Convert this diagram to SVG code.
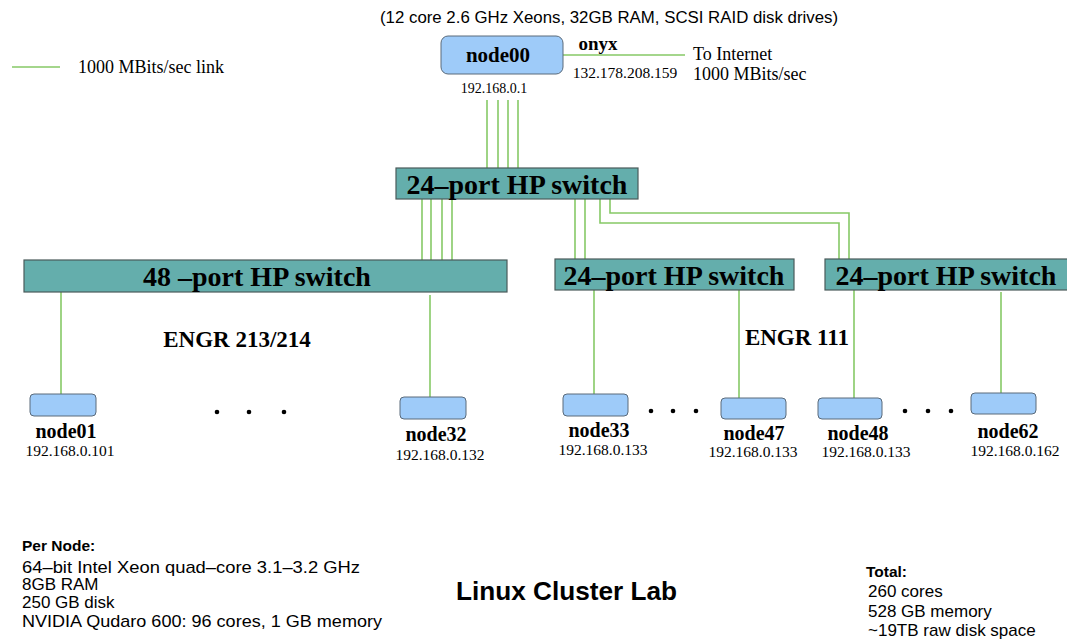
<svg xmlns="http://www.w3.org/2000/svg" width="1067" height="640" viewBox="0 0 1067 640">
<style>
.bg{fill:#ffffff}
.link{stroke:#86c966;stroke-width:1.6;fill:none}
.sw{fill:#64aeac;stroke:#4a5a5a;stroke-width:1.2}
.nd{fill:#9ecbf9;stroke:#5a6a7a;stroke-width:1}
.swt{font-family:"Liberation Serif",serif;font-weight:bold;font-size:28px;fill:#000;text-anchor:middle}
.nl{font-family:"Liberation Serif",serif;font-weight:bold;font-size:20px;fill:#000;text-anchor:middle}
.ip{font-family:"Liberation Serif",serif;font-size:15.5px;fill:#000;text-anchor:middle}
.ser{font-family:"Liberation Serif",serif;font-size:18px;fill:#000}
.room{font-family:"Liberation Serif",serif;font-weight:bold;font-size:23px;fill:#000;text-anchor:middle}
.sans{font-family:"Liberation Sans",sans-serif;font-size:17px;fill:#000}
.sansb{font-family:"Liberation Sans",sans-serif;font-weight:bold;font-size:15.5px;fill:#000}
.dot{fill:#000}
</style>
<rect class="bg" x="0" y="0" width="1067" height="640"/>

<g id="legend">
<line class="link" x1="12" y1="67" x2="60" y2="67"/>
<text class="ser" x="78" y="73">1000 MBits/sec link</text>
</g>

<text class="sans" x="380" y="23" style="font-size:16px" textLength="458" lengthAdjust="spacingAndGlyphs">(12 core 2.6 GHz Xeons, 32GB  RAM, SCSI RAID disk drives)</text>

<g id="connectors">
<line class="link" x1="563" y1="55" x2="685" y2="55"/>
<line class="link" x1="487" y1="100" x2="487" y2="168"/>
<line class="link" x1="498" y1="100" x2="498" y2="168"/>
<line class="link" x1="508" y1="100" x2="508" y2="168"/>
<line class="link" x1="518" y1="100" x2="518" y2="168"/>
<line class="link" x1="422" y1="199" x2="422" y2="260"/>
<line class="link" x1="431" y1="199" x2="431" y2="260"/>
<line class="link" x1="442" y1="199" x2="442" y2="260"/>
<line class="link" x1="452" y1="199" x2="452" y2="260"/>
<line class="link" x1="575" y1="199" x2="575" y2="259"/>
<line class="link" x1="585" y1="199" x2="585" y2="259"/>
<polyline class="link" points="600,199 600,223 839,223 839,259"/>
<polyline class="link" points="610,199 610,213 849,213 849,259"/>
<line class="link" x1="61" y1="292" x2="61" y2="394"/>
<line class="link" x1="430" y1="295" x2="430" y2="397"/>
<line class="link" x1="594" y1="290" x2="594" y2="394"/>
<line class="link" x1="739" y1="290" x2="739" y2="398"/>
<line class="link" x1="854" y1="290" x2="854" y2="398"/>
<line class="link" x1="1001" y1="292" x2="1001" y2="393"/>
</g>

<g id="node00">
<rect class="nd" x="441" y="36" width="122" height="38" rx="7"/>
<text class="nl" x="498" y="62" style="font-size:21px">node00</text>
<text class="ip" x="494" y="93" style="font-size:14px">192.168.0.1</text>
<text class="nl" x="598" y="50" style="font-size:19px">onyx</text>
<text class="ip" x="625" y="78">132.178.208.159</text>
<text class="ser" x="693" y="60">To Internet</text>
<text class="ser" x="693" y="80">1000 MBits/sec</text>
</g>

<g id="switch-top">
<rect class="sw" x="396" y="168" width="242" height="31"/>
<text class="swt" x="517" y="194">24–port HP switch</text>
</g>

<g id="switch-48">
<rect class="sw" x="24" y="260" width="483" height="32"/>
<text class="swt" x="257" y="286">48 –port HP switch</text>
</g>

<g id="switch-24a">
<rect class="sw" x="555" y="259" width="239" height="31"/>
<text class="swt" x="674" y="285">24–port HP switch</text>
</g>

<g id="switch-24b">
<rect class="sw" x="825" y="259" width="245" height="31"/>
<text class="swt" x="946" y="285">24–port HP switch</text>
</g>

<text class="room" x="237" y="347">ENGR 213/214</text>
<text class="room" x="797" y="345">ENGR 111</text>

<g id="node01">
<rect class="nd" x="30" y="394" width="66" height="22" rx="4"/>
<text class="nl" x="66" y="438">node01</text>
<text class="ip" x="70" y="456">192.168.0.101</text>
</g>
<g id="node32">
<rect class="nd" x="400" y="397" width="66" height="22" rx="4"/>
<text class="nl" x="436" y="441">node32</text>
<text class="ip" x="440" y="460">192.168.0.132</text>
</g>
<g id="node33">
<rect class="nd" x="563" y="394" width="65" height="22" rx="4"/>
<text class="nl" x="599" y="437">node33</text>
<text class="ip" x="603" y="455">192.168.0.133</text>
</g>
<g id="node47">
<rect class="nd" x="721" y="398" width="65" height="21" rx="4"/>
<text class="nl" x="754" y="440">node47</text>
<text class="ip" x="753" y="457">192.168.0.133</text>
</g>
<g id="node48">
<rect class="nd" x="818" y="398" width="64" height="21" rx="4"/>
<text class="nl" x="858" y="440">node48</text>
<text class="ip" x="866" y="457">192.168.0.133</text>
</g>
<g id="node62">
<rect class="nd" x="971" y="393" width="65" height="21" rx="4"/>
<text class="nl" x="1008" y="438">node62</text>
<text class="ip" x="1015" y="456">192.168.0.162</text>
</g>

<g id="dots">
<circle class="dot" cx="217" cy="412" r="2.3"/>
<circle class="dot" cx="249" cy="412" r="2.3"/>
<circle class="dot" cx="284" cy="412" r="2.3"/>
<circle class="dot" cx="651" cy="411" r="2.3"/>
<circle class="dot" cx="673" cy="411" r="2.3"/>
<circle class="dot" cx="696" cy="411" r="2.3"/>
<circle class="dot" cx="905" cy="411" r="2.3"/>
<circle class="dot" cx="928" cy="411" r="2.3"/>
<circle class="dot" cx="951" cy="411" r="2.3"/>
</g>

<g id="pernode">
<text class="sansb" x="22" y="551">Per Node:</text>
<text class="sans" x="22" y="573" textLength="338" lengthAdjust="spacingAndGlyphs">64–bit Intel Xeon quad–core 3.1–3.2 GHz</text>
<text class="sans" x="22" y="590">8GB RAM</text>
<text class="sans" x="22" y="608">250 GB disk</text>
<text class="sans" x="22" y="627" textLength="360" lengthAdjust="spacingAndGlyphs">NVIDIA Qudaro 600: 96 cores, 1 GB memory</text>
</g>

<text class="sansb" x="456" y="600" style="font-size:26px" textLength="221" lengthAdjust="spacingAndGlyphs">Linux Cluster Lab</text>

<g id="total">
<text class="sansb" x="866" y="577">Total:</text>
<text class="sans" x="868" y="597">260 cores</text>
<text class="sans" x="868" y="617">528 GB memory</text>
<text class="sans" x="868" y="636">~19TB raw disk space</text>
</g>
</svg>
